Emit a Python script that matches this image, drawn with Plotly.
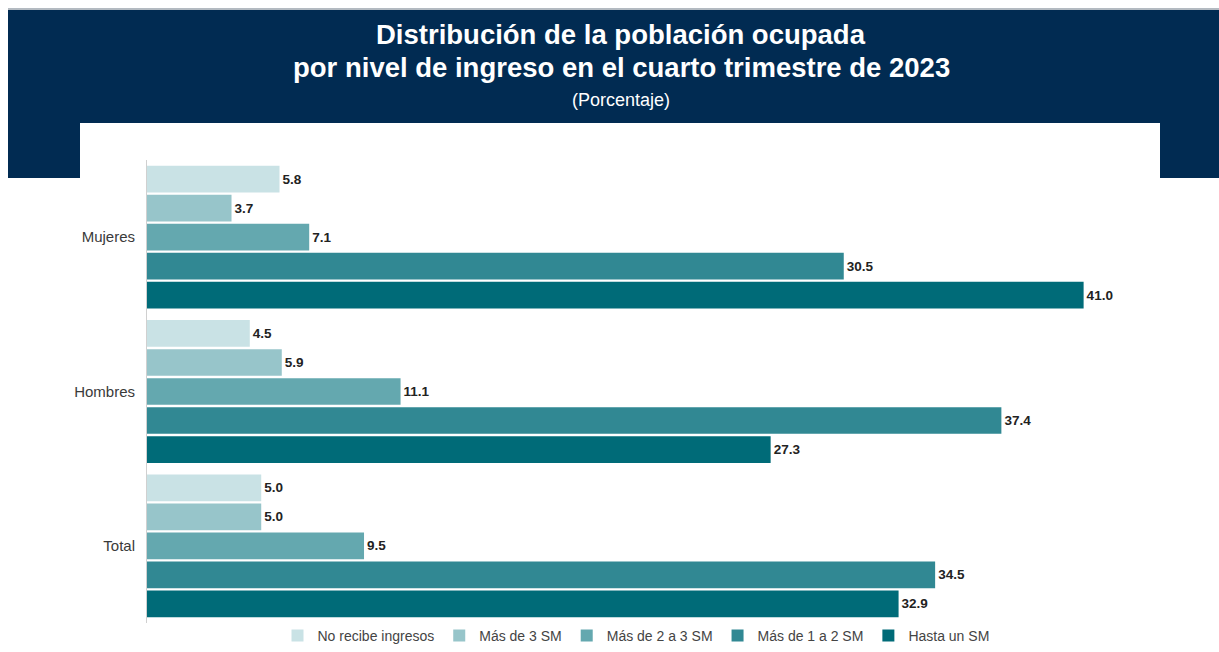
import plotly.graph_objects as go

categorias = ["Mujeres", "Hombres", "Total"]
series = ["No recibe ingresos", "Más de 3 SM", "Más de 2 a 3 SM", "Más de 1 a 2 SM", "Hasta un SM"]
no_recibe = [5.8, 4.5, 5.0]
mas_3 = [3.7, 5.9, 5.0]
mas_2_a_3 = [7.1, 11.1, 9.5]
mas_1_a_2 = [30.5, 37.4, 34.5]
hasta_un = [41.0, 27.3, 32.9]
valores = [no_recibe, mas_3, mas_2_a_3, mas_1_a_2, hasta_un]
colores = ["#C9E2E5", "#97C5CA", "#64A8AF", "#318893", "#006B78"]

fuente = "Liberation Sans, Arial, sans-serif"

fig = go.Figure()
for nombre, vals, color in zip(series, valores, colores):
    fig.add_trace(go.Bar(
        y=categorias, x=vals, name=nombre, orientation="h",
        marker=dict(color=color, line=dict(width=0)),
        text=vals, texttemplate="<b>%{x:.1f}</b>", textposition="outside",
        textfont=dict(size=13.5, color="#222222", family=fuente),
        cliponaxis=False,
    ))

FW, FH = 1219, 652
L, R, T = 147, 44, 160
PLOT_BOTTOM = 623
W, HP = FW - L - R, FH - T
rx = lambda v: (v - L) / W
ry = lambda v: (FH - v) / HP

shapes = [
    dict(type="line", xref="paper", yref="paper", layer="below",
         x0=rx(8), x1=rx(1219), y0=ry(9), y1=ry(9),
         line=dict(color="#9AA3AD", width=1.5)),
    dict(type="rect", xref="paper", yref="paper", layer="below",
         x0=rx(8), x1=rx(1225), y0=ry(178), y1=ry(10),
         fillcolor="#012B52", line=dict(width=0)),
    dict(type="rect", xref="paper", yref="paper", layer="below",
         x0=rx(80), x1=rx(1160), y0=ry(182), y1=ry(123),
         fillcolor="white", line=dict(width=0)),
]

annotations = [
    dict(xref="paper", yref="paper", x=rx(621), y=ry(35), xanchor="center", yanchor="middle",
         text="<b>Distribución de la población ocupada</b>",
         showarrow=False, font=dict(size=27.5, color="white", family=fuente)),
    dict(xref="paper", yref="paper", x=rx(621), y=ry(68), xanchor="center", yanchor="middle",
         text="<b>por nivel de ingreso en el cuarto trimestre de 2023</b>",
         showarrow=False, font=dict(size=27.5, color="white", family=fuente)),
    dict(xref="paper", yref="paper", x=rx(621), y=ry(100), xanchor="center", yanchor="middle",
         text="(Porcentaje)", showarrow=False,
         font=dict(size=18, color="white", family=fuente)),
]

fig.update_layout(
    width=FW, height=FH,
    margin=dict(l=L, r=R, t=T, b=0),
    barmode="group", bargap=0.06, bargroupgap=0.08,
    plot_bgcolor="white", paper_bgcolor="white",
    font=dict(family=fuente, size=14, color="#333333"),
    shapes=shapes, annotations=annotations,
    legend=dict(orientation="h", x=rx(636), xanchor="center", y=0, yanchor="bottom",
                font=dict(size=14, color="#444444"), traceorder="normal", itemwidth=30),
    showlegend=True,
)
fig.update_xaxes(range=[0, 45], showticklabels=False, showgrid=False, zeroline=False, showline=False)
fig.update_yaxes(domain=[ry(PLOT_BOTTOM), 1], autorange="reversed", showgrid=False, showline=True,
                 linecolor="#D0D0D0", linewidth=1, ticks="", ticklabelstandoff=8,
                 tickfont=dict(size=15, color="#3A3A3A", family=fuente))

# drop the default 8px body margin so the figure fills the window
fig.write_html("out.html", config={"displayModeBar": False},
               post_script="document.body.style.margin='0';")
